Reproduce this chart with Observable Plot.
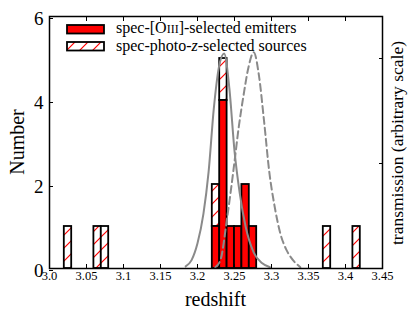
<!DOCTYPE html>
<html><head><meta charset="utf-8">
<script src="https://cdn.jsdelivr.net/npm/d3@7"></script>
<script src="https://cdn.jsdelivr.net/npm/@observablehq/plot@0.6"></script>
<style>
html,body{margin:0;padding:0;background:#fff;}
#chart{position:relative;width:416px;height:322px;}
#chart svg{font-family:"Liberation Serif","Times New Roman",serif;}
</style></head><body><div id="chart"></div>
<script>
// ---- data ----
const xTicks = [3.0, 3.05, 3.1, 3.15, 3.2, 3.25, 3.3, 3.35, 3.4, 3.45];
const xTickLabels = ["3.0", "3.05", "3.1", "3.15", "3.2", "3.25", "3.3", "3.35", "3.4", "3.45"];
const yTicks = [0, 2, 4, 6];
const yTickLabels = ["0", "2", "4", "6"];
const transTicks = [2.5, 5];
const binWidth = 0.01;
const emitterBins = [3.22, 3.23, 3.24, 3.25, 3.26, 3.27];
const emitterCounts = [1, 4, 1, 1, 2, 1];
const photoBins = [3.02, 3.06, 3.07, 3.22, 3.23, 3.37, 3.41];
const photoCounts = [1, 1, 1, 1, 1, 1, 1];
const filterSolidZ = [3.184, 3.192, 3.200, 3.208, 3.215, 3.222, 3.229, 3.236, 3.243, 3.250, 3.257, 3.265, 3.276, 3.287, 3.298];
const filterSolidT = [0.05, 0.2, 0.6, 1.3, 2.3, 3.8, 4.8, 5.12, 4.3, 2.8, 1.8, 1.0, 0.38, 0.13, 0.03];
const filterDashedZ = [3.224, 3.231, 3.240, 3.249, 3.256, 3.262, 3.269, 3.276, 3.283, 3.290, 3.297, 3.304, 3.312, 3.320, 3.326, 3.339];
const filterDashedT = [0.03, 0.2, 1.2, 2.4, 3.4, 4.1, 4.8, 5.15, 4.6, 3.5, 2.3, 1.5, 0.83, 0.45, 0.27, 0.03];

// ---- derived tables ----
const emit = emitterBins.map((z, i) => ({x1: z, x2: z + binWidth, y1: 0, y2: emitterCounts[i]}));
const photo = photoBins.map((z, i) => {
  const j = emitterBins.findIndex(b => Math.abs(b - z) < 1e-9);
  const base = j >= 0 ? emitterCounts[j] : 0;
  return {x1: z, x2: z + binWidth, y1: base, y2: base + photoCounts[i]};
});
const solid = filterSolidZ.map((z, i) => ({z, t: filterSolidT[i]}));
const dashed = filterDashedZ.map((z, i) => ({z, t: filterDashedT[i]}));
const labelOf = (ticks, labels) => d => labels[ticks.findIndex(t => Math.abs(t - d) < 1e-9)];

const serif = '"Liberation Serif","Times New Roman",serif';
const plot = Plot.plot({
  width: 416, height: 322,
  marginLeft: 49, marginRight: 34, marginTop: 16, marginBottom: 54,
  style: {fontFamily: serif, background: "white", color: "black"},
  x: {domain: [3.0, 3.45]},
  y: {domain: [0, 6]},
  marks: [
    Plot.rect(photo, {x1: "x1", x2: "x2", y1: "y1", y2: "y2", fill: "url(#hatch)", stroke: "black", strokeWidth: 1.8}),
    Plot.rect(emit, {x1: "x1", x2: "x2", y1: "y1", y2: "y2", fill: "#ff0000", stroke: "black", strokeWidth: 1.8}),
    Plot.line(solid, {x: "z", y: "t", stroke: "#8a8a8a", strokeWidth: 2, curve: "monotone-x"}),
    Plot.line(dashed, {x: "z", y: "t", stroke: "#8a8a8a", strokeWidth: 2, strokeDasharray: "7,4", curve: "monotone-x"}),
    Plot.axisX({ticks: xTicks, tickFormat: labelOf(xTicks, xTickLabels), tickSize: -4, tickPadding: 7, fontSize: 12.5, label: null}),
    Plot.axisX({anchor: "top", ticks: xTicks, tickFormat: () => "", tickSize: -4, label: null}),
    Plot.axisY({ticks: yTicks, tickFormat: labelOf(yTicks, yTickLabels), tickSize: -4, tickPadding: 10, fontSize: 19, label: null, dy: 2}),
    Plot.axisY({anchor: "right", ticks: transTicks, tickFormat: () => "", tickSize: -4, label: null}),
    Plot.frame({stroke: "black", strokeWidth: 1.5})
  ]
});
document.getElementById("chart").appendChild(plot);

// ---- hatch pattern, titles and legend ----
const svg = d3.select(plot);
const defs = svg.insert("defs", ":first-child");
const pat = defs.append("pattern").attr("id", "hatch").attr("patternUnits", "userSpaceOnUse")
  .attr("width", 13).attr("height", 13);
pat.append("rect").attr("width", 13).attr("height", 13).attr("fill", "white");
pat.append("path").attr("d", "M0,13 L13,0 M-2,2 L2,-2 M11,15 L15,11").attr("stroke", "#ff0000").attr("stroke-width", 1.2);

const g = svg.append("g").attr("font-family", serif).attr("fill", "black");
g.append("text").attr("x", 215.5).attr("y", 306).attr("text-anchor", "middle").attr("font-size", 20).text("redshift");
g.append("text").attr("transform", "translate(24,142) rotate(-90)").attr("text-anchor", "middle").attr("font-size", 20).text("Number");
g.append("text").attr("transform", "translate(403,143) rotate(-90)").attr("text-anchor", "middle").attr("font-size", 17.5).text("transmission (arbitrary scale)");

const lg = svg.append("g").attr("font-family", serif).attr("text-anchor", "start").attr("fill", "black");
lg.append("rect").attr("x", 67).attr("y", 25).attr("width", 37).attr("height", 8.5).attr("fill", "#ff0000").attr("stroke", "black").attr("stroke-width", 1.8);
lg.append("rect").attr("x", 67).attr("y", 42).attr("width", 37).attr("height", 8.5).attr("fill", "url(#hatch)").attr("stroke", "black").attr("stroke-width", 1.8);
const t1 = lg.append("text").attr("x", 116).attr("y", 33).attr("font-size", 16);
t1.append("tspan").text("spec-[O");
t1.append("tspan").attr("font-size", 12).text("III");
t1.append("tspan").text("]-selected emitters");
const t2 = lg.append("text").attr("x", 116).attr("y", 51).attr("font-size", 16);
t2.append("tspan").text("spec-photo-");
t2.append("tspan").attr("font-style", "italic").text("z");
t2.append("tspan").text("-selected sources");
</script></body></html>
